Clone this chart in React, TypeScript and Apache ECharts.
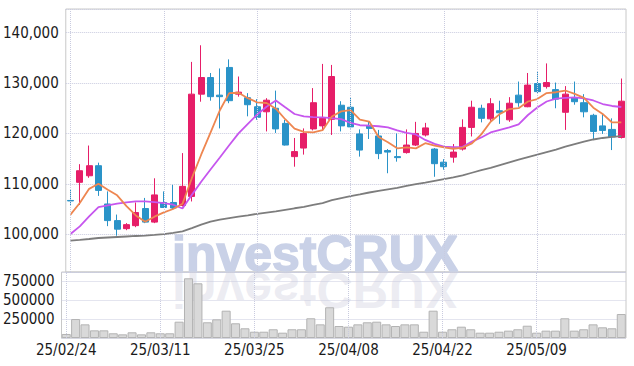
import React, { useEffect, useRef } from "react";
import * as echarts from "echarts";

const categories = [
  "25/02/24", "25/02/25", "25/02/26", "25/02/27", "25/02/28", "25/03/04", "25/03/05", "25/03/06", "25/03/07", "25/03/10",
  "25/03/11", "25/03/12", "25/03/13", "25/03/14", "25/03/17", "25/03/18", "25/03/19", "25/03/20", "25/03/21", "25/03/24",
  "25/03/25", "25/03/26", "25/03/27", "25/03/28", "25/03/31", "25/04/01", "25/04/02", "25/04/03", "25/04/04", "25/04/07",
  "25/04/08", "25/04/09", "25/04/10", "25/04/11", "25/04/14", "25/04/15", "25/04/16", "25/04/17", "25/04/18", "25/04/21",
  "25/04/22", "25/04/23", "25/04/24", "25/04/25", "25/04/28", "25/04/29", "25/04/30", "25/05/02", "25/05/07", "25/05/08",
  "25/05/09", "25/05/12", "25/05/13", "25/05/14", "25/05/15", "25/05/16", "25/05/19", "25/05/20", "25/05/21", "25/05/22",
];

const tickLabels = ["25/02/24", "25/03/11", "25/03/25", "25/04/08", "25/04/22", "25/05/09"];

const openValues = [
  106700, 110300, 111600, 113600, 106000, 102700, 101100, 101700, 105100, 102400,
  106300, 106300, 105700, 107500, 127800, 131100, 127600, 133100, 127800, 127100,
  125300, 124300, 125000, 122000, 115400, 117100, 120900, 121500, 122800, 125600,
  125200, 119900, 121600, 119500, 116600, 115400, 116200, 117700, 119700, 116900,
  114300, 115300, 116900, 121200, 125000, 122900, 124500, 122700, 127600, 125300,
  129900, 129300, 128700, 124200, 127100, 126100, 123600, 121500, 120800, 119200,
];
const closeValues = [
  106600, 112600, 113600, 108700, 102700, 101000, 101900, 104300, 102400, 107800,
  105300, 105200, 109500, 127800, 131100, 127300, 127300, 126500, 128200, 125700,
  123200, 126600, 120900, 117700, 116400, 120000, 126100, 123000, 131300, 121500,
  121300, 116700, 121000, 116000, 116300, 115200, 117700, 120000, 121100, 114000,
  113400, 116300, 121200, 125200, 123000, 125900, 124100, 126000, 126100, 129600,
  128300, 130100, 126800, 127800, 126300, 124300, 120400, 120600, 119300, 126400,
];
const lowValues = [
  105700, 105800, 111200, 107600, 101600, 99700, 100800, 101400, 102200, 102200,
  105200, 105000, 105500, 106500, 126300, 126500, 121000, 126000, 127300, 123400,
  122700, 120400, 120100, 117600, 113400, 115800, 120600, 120700, 119700, 120400,
  121000, 115400, 118900, 114900, 112100, 114400, 116000, 117500, 119400, 111400,
  112800, 114200, 116600, 119400, 122200, 122500, 121900, 122300, 125300, 125200,
  127900, 128900, 125000, 120700, 125700, 123200, 118700, 119900, 116700, 119000,
];
const highValues = [
  108800, 113900, 117600, 114200, 108500, 103900, 102200, 106300, 107200, 111100,
  108500, 109800, 116100, 134200, 137500, 132000, 132900, 134700, 131300, 128000,
  126800, 127000, 128500, 122700, 119100, 121000, 129000, 133800, 133600, 126400,
  127100, 120800, 122300, 120700, 116900, 120000, 120800, 122300, 122100, 117100,
  114900, 117900, 122800, 126500, 125700, 127000, 126500, 127200, 130300, 132000,
  132200, 133900, 130100, 129400, 130300, 127800, 123900, 123900, 123000, 130900,
];

const ma5Values = [
  103900, 106200, 109000, 110000, 108840, 107720, 105580, 103720, 102460, 103480,
  104340, 105000, 106040, 111120, 115780, 120180, 124600, 128000, 128080, 127000,
  126180, 126040, 124920, 122820, 120960, 120320, 120220, 120640, 123360, 124380,
  124640, 122760, 122360, 119300, 118260, 117040, 117240, 117040, 118060, 117600,
  117240, 116960, 117200, 118020, 119820, 122320, 123880, 124840, 125020, 126340,
  126820, 128020, 128180, 128520, 127860, 127060, 125120, 123880, 122180, 122200,
];
const ma20Values = [
  100040, 101550, 103530, 105390, 105720, 106050, 106300, 106500, 106500, 106380,
  106180, 105850, 105100, 107810, 110420, 112850, 115230, 117650, 120020, 121920,
  123760, 125310, 126530, 125190, 123860, 123370, 123250, 123170, 123030, 122840,
  122080, 121630, 121550, 121430, 121190, 120600, 120100, 119800, 118715, 117920,
  117390, 117270, 117330, 118380, 119210, 120200, 120700, 121190, 121780, 123660,
  125150, 126340, 126930, 127070, 127170, 126970, 126540, 125840, 125450, 125250,
];
const maLongValues = [
  98720, 98880, 99050, 99250, 99350, 99450, 99550, 99650, 99710, 99850,
  100000, 100250, 100580, 101200, 101900, 102500, 102900, 103200, 103500, 103750,
  104050, 104300, 104550, 104850, 105150, 105420, 105800, 106180, 106750, 107180,
  107550, 107900, 108280, 108600, 108900, 109200, 109600, 109950, 110250, 110600,
  110950, 111300, 111700, 112200, 112700, 113150, 113700, 114250, 114800, 115300,
  115800, 116300, 116800, 117400, 117900, 118400, 118800, 119100, 119300, 119450,
];

const volumeValues = [
  53000, 250000, 180000, 101000, 101000, 62000, 48000, 75000, 48000, 75000,
  62000, 62000, 215000, 787000, 721000, 207000, 246000, 360000, 194000, 128000,
  83000, 83000, 115000, 70000, 115000, 115000, 260000, 180000, 405000, 158000,
  149000, 180000, 207000, 215000, 180000, 158000, 180000, 180000, 83000, 360000,
  83000, 115000, 149000, 115000, 70000, 70000, 83000, 97000, 115000, 162000,
  70000, 97000, 97000, 260000, 97000, 115000, 180000, 141000, 128000, 316000,
];

const FONT = "'Liberation Sans Narrow', 'DejaVu Sans Condensed', 'Roboto', sans-serif";
const GRID_COLOR = "#c9cbdf";
const UP = "#e61e68";
const DOWN = "#2a93c8";

export default function App() {
  const ref = useRef<HTMLDivElement>(null);

  useEffect(() => {
    if (!ref.current) return;
    const chart = echarts.init(ref.current, null, { renderer: "svg" });
    const labelStyle = { color: "#1a1a1a", fontFamily: FONT, fontSize: 15 };
    const isTick = (_: number, v: string) => tickLabels.includes(v);
    const vLines = {
      silent: true,
      symbol: ["none", "none"],
      label: { show: false },
      emphasis: { disabled: true },
      lineStyle: { type: "dotted", color: GRID_COLOR, width: 1 },
      data: tickLabels.map((d) => ({ xAxis: d })),
    };
    const wmStyle = {
      text: "investCRUX",
      fontSize: 50,
      fontWeight: "bold",
      fontFamily: "'Liberation Sans', Arial, sans-serif",
      align: "left",
      verticalAlign: "middle",
    };

    chart.setOption({
      animation: false,
      backgroundColor: "#ffffff",
      grid: [
        { left: 60, right: 8, top: 9, height: 263, show: true, borderColor: "#c8c8c8", borderWidth: 1 },
        { left: 60, right: 8, top: 272, height: 66, show: true, borderColor: "#c8c8c8", borderWidth: 1 },
      ],
      xAxis: [
        {
          type: "category",
          gridIndex: 0,
          data: categories,
          axisLine: { show: false },
          axisTick: { show: false },
          axisLabel: { show: false },
          splitLine: { show: false },
        },
        {
          type: "category",
          gridIndex: 1,
          data: categories,
          axisLine: { show: false },
          axisTick: { show: false },
          axisLabel: { ...labelStyle, interval: isTick, margin: 4 },
          splitLine: { show: false },
        },
      ],
      yAxis: [
        {
          type: "value",
          gridIndex: 0,
          min: 92500,
          max: 144700,
          axisLine: { show: false },
          axisTick: { show: false },
          axisLabel: {
            ...labelStyle,
            margin: 7,
            formatter: (v: number) => (v % 10000 === 0 ? v.toLocaleString("en-US") : ""),
          },
          splitLine: { show: true, lineStyle: { type: "dotted", color: GRID_COLOR } },
        },
        {
          type: "value",
          gridIndex: 1,
          min: 0,
          max: 870000,
          interval: 250000,
          axisLine: { show: false },
          axisTick: { show: false },
          axisLabel: {
            ...labelStyle,
            margin: 7,
            formatter: (v: number) => (v > 0 && v % 250000 === 0 ? String(v) : ""),
          },
          splitLine: { show: true, lineStyle: { type: "dotted", color: GRID_COLOR } },
        },
      ],
      graphic: [
        {
          type: "text",
          x: 172,
          y: 254,
          z: 0,
          silent: true,
          style: { ...wmStyle, fill: "#c9d1e7", stroke: "#c9d1e7", lineWidth: 1.5 },
        },
        {
          type: "text",
          x: 172,
          y: 290,
          scaleY: -1,
          z: 0,
          silent: true,
          style: { ...wmStyle, fill: "rgba(205,205,222,0.38)" },
        },
      ],
      series: [
        {
          type: "candlestick",
          xAxisIndex: 0,
          yAxisIndex: 0,
          barWidth: "70%",
          data: openValues.map((o, i) => [o, closeValues[i], lowValues[i], highValues[i]]),
          itemStyle: { color: UP, color0: DOWN, borderColor: UP, borderColor0: DOWN, borderWidth: 1 },
          markLine: vLines,
        },
        {
          type: "line",
          xAxisIndex: 0,
          yAxisIndex: 0,
          data: maLongValues,
          symbol: "none",
          lineStyle: { color: "#7d7d7d", width: 1.8 },
        },
        {
          type: "line",
          xAxisIndex: 0,
          yAxisIndex: 0,
          data: ma20Values,
          symbol: "none",
          lineStyle: { color: "#c656ee", width: 1.8 },
        },
        {
          type: "line",
          xAxisIndex: 0,
          yAxisIndex: 0,
          data: ma5Values,
          symbol: "none",
          lineStyle: { color: "#ee8650", width: 1.8 },
        },
        {
          type: "bar",
          xAxisIndex: 1,
          yAxisIndex: 1,
          data: volumeValues,
          barCategoryGap: "4%",
          itemStyle: { color: "#d9d9d9", borderColor: "#b3b3b3", borderWidth: 1 },
          markLine: vLines,
        },
      ],
    });

    return () => chart.dispose();
  }, []);

  return (
    <div
      ref={ref}
      style={{ position: "fixed", left: 0, top: 0, width: 634, height: 366, background: "#fff" }}
    />
  );
}
